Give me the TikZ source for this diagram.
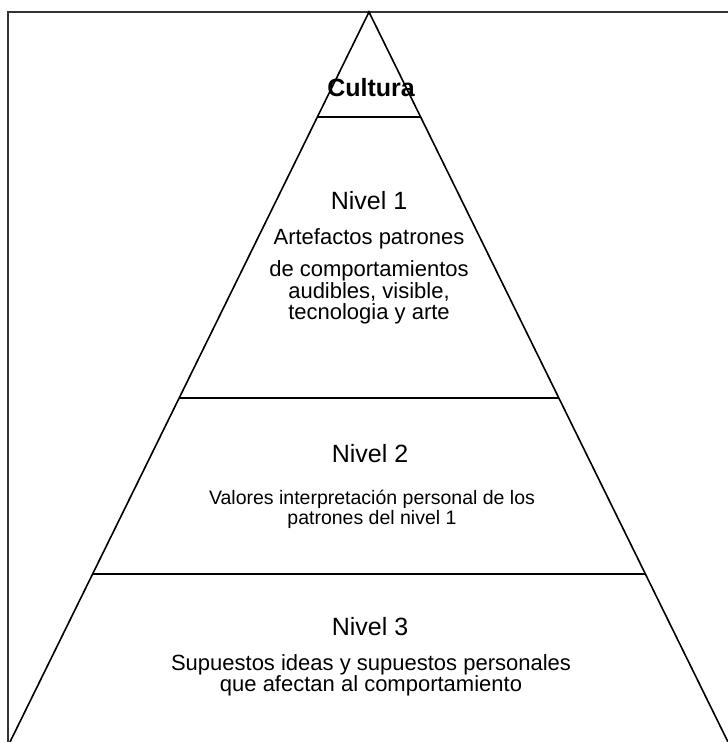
\documentclass[tikz,border=0pt]{standalone}
\usepackage{fontspec}
\setmainfont{Liberation Sans}
\usetikzlibrary{calc}
\tikzset{%
frame/.style={line width=1.2pt,black!80},
layer/.style={line width=1.6pt,black},
nivel/.style={anchor=base,inner sep=0pt,font=\fontsize{25}{30}\selectfont},
texto/.style={anchor=base,inner sep=0pt,align=center,font=\fontsize{22}{21.5}\selectfont},
textochico/.style={texto,font=\fontsize{19.5}{20}\selectfont}
}

\begin{document}
\begin{tikzpicture}[x=1pt,y=1pt]
\useasboundingbox (0,0) rectangle (728,742);
\coordinate (apex) at (369,730);
\coordinate (left) at (10,0);
\coordinate (right) at (728,0);
\draw[frame] (8,0) -- (8,730) -- (728,730);
\draw[layer,line join=miter] (left) -- (apex) -- (right);
% separaciones entre niveles
\foreach \t/\name in {0.1438/top,0.5288/mid,0.7699/low}
  \draw[layer] ($(apex)!\t!(left)$) coordinate (\name-l) -- ($(apex)!\t!(right)$) coordinate (\name-r);
\node[nivel,font=\bfseries\fontsize{25}{30}\selectfont] (cultura) at (371,645) {Cultura};
\node[nivel] (nivel1) at (369,532) {Nivel 1};
\node[texto] (artefactos) at (369,497) {Artefactos patrones};
\node[texto] (comport) at (369,422) {de comportamientos\\audibles, visible,\\tecnologia y arte};
\node[nivel] (nivel2) at (370,279) {Nivel 2};
\node[textochico] (valores) at (372,217) {Valores interpretación personal de los\\patrones del nivel 1};
\node[nivel] (nivel3) at (370,106) {Nivel 3};
\node[texto] (supuestos) at (371,50) {Supuestos ideas y supuestos personales\\que afectan al comportamiento};
\end{tikzpicture}
\end{document}
